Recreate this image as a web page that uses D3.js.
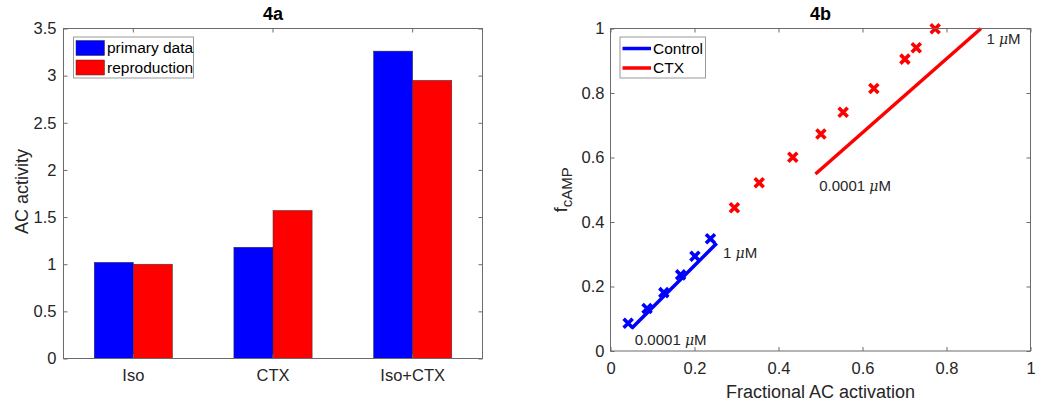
<!DOCTYPE html>
<html>
<head>
<meta charset="utf-8">
<script src="https://cdn.jsdelivr.net/npm/d3@7"></script>
<style>
  body { margin: 0; background: #fff; }
  svg { display: block; font-family: "Liberation Sans", Arial, sans-serif; }
  .tick text { fill: #262626; }
</style>
</head>
<body>
<svg id="chart" width="1037" height="405"></svg>
<script>
// 4a data
const categories = ['Iso', 'CTX', 'Iso+CTX'];
const seriesNames = ['primary data', 'reproduction'];
const primaryData = [1.02, 1.18, 3.26];
const reproduction = [1.0, 1.57, 2.95];
const yTicksA = [0, 0.5, 1, 1.5, 2, 2.5, 3, 3.5];

// 4b data
const controlX = [0.042, 0.087, 0.127, 0.167, 0.201, 0.238];
const controlY = [0.086, 0.132, 0.181, 0.236, 0.294, 0.348];
const ctxX = [0.295, 0.354, 0.434, 0.501, 0.554, 0.627, 0.701, 0.728, 0.773];
const ctxY = [0.444, 0.522, 0.601, 0.673, 0.740, 0.814, 0.905, 0.940, 0.999];
const controlLine = [[0.050, 0.070], [0.253, 0.334]];
const ctxLine = [[0.488, 0.549], [0.882, 1.0]];
const ticksB = [0, 0.2, 0.4, 0.6, 0.8, 1];
const annotations = [
    { x: 0.058, y: 0.034, text: '0.0001 ' },
    { x: 0.268, y: 0.306, text: '1 ' },
    { x: 0.497, y: 0.512, text: '0.0001 ' },
    { x: 0.895, y: 0.969, text: '1 ' }
];

const BLUE = '#0000ff';
const RED = '#ff0000';
const AXIS = '#6b6b6b';
const TEXT = '#262626';

const svg = d3.select('#chart');

const box = (g, w, h) => g.append('rect')
    .attr('x', 0).attr('y', 0).attr('width', w).attr('height', h)
    .attr('fill', 'none').attr('stroke', AXIS).attr('stroke-width', 1);

const styleAxis = sel => {
    sel.select('.domain').remove();
    sel.selectAll('.tick line').attr('stroke', AXIS);
    sel.selectAll('.tick text').attr('font-size', 16.5);
};

//#region 4a bar chart
const a = { left: 63.5, top: 28.5, width: 419, height: 330 };
const gA = svg.append('g').attr('transform', `translate(${a.left},${a.top})`);

const x0 = d3.scaleBand().domain(categories).range([0, a.width]).padding(0);
const x1 = d3.scaleBand().domain(seriesNames)
    .range([x0.bandwidth() * 0.22, x0.bandwidth() * 0.78]);
const yA = d3.scaleLinear().domain([0, 3.5]).range([a.height, 0]);

const barData = categories.map((c, i) => ({
    cat: c,
    values: [
        { name: seriesNames[0], v: primaryData[i], color: BLUE },
        { name: seriesNames[1], v: reproduction[i], color: RED }
    ]
}));

gA.selectAll('.group')
    .data(barData)
    .join('g')
    .attr('transform', d => `translate(${x0(d.cat)},0)`)
    .selectAll('rect')
    .data(d => d.values)
    .join('rect')
    .attr('x', d => x1(d.name))
    .attr('width', x1.bandwidth())
    .attr('y', d => yA(d.v))
    .attr('height', d => a.height - yA(d.v))
    .attr('fill', d => d.color)
    .attr('stroke', '#333')
    .attr('stroke-width', 0.5);

gA.append('g').call(d3.axisLeft(yA).tickValues(yTicksA).tickFormat(d3.format('')).tickSize(-4).tickPadding(7)).call(styleAxis);
gA.append('g').attr('transform', `translate(${a.width},0)`)
    .call(d3.axisRight(yA).tickValues(yTicksA).tickFormat('').tickSize(-4)).call(styleAxis);
gA.append('g').attr('transform', `translate(0,${a.height})`)
    .call(d3.axisBottom(x0).tickSize(-4).tickPadding(11)).call(styleAxis);
gA.append('g')
    .call(d3.axisTop(x0).tickFormat('').tickSize(-4)).call(styleAxis);
box(gA, a.width, a.height);

gA.append('text')
    .attr('x', a.width / 2).attr('y', -9)
    .attr('text-anchor', 'middle').attr('font-weight', 'bold')
    .attr('font-size', 18).attr('fill', '#000')
    .text('4a');

gA.append('text')
    .attr('transform', `translate(-42,${a.height / 2 - 2}) rotate(-90)`)
    .attr('text-anchor', 'middle').attr('dy', '0.35em').attr('font-size', 18).attr('fill', TEXT)
    .text('AC activity');

// legend
const legA = gA.append('g').attr('transform', 'translate(10,8.5)');
legA.append('rect').attr('width', 120).attr('height', 41)
    .attr('fill', '#fff').attr('stroke', '#9a9a9a').attr('stroke-width', 1);
seriesNames.forEach((name, i) => {
    const row = legA.append('g').attr('transform', `translate(2.5,${3.5 + i * 19.5})`);
    row.append('rect').attr('width', 28.5).attr('height', 15)
        .attr('fill', i === 0 ? BLUE : RED).attr('stroke', '#333').attr('stroke-width', 0.5);
    row.append('text').attr('x', 31).attr('y', 7.5).attr('dy', '0.35em')
        .attr('font-size', 15.5).attr('fill', '#000').text(name);
});
//#endregion

//#region 4b scatter + lines
const b = { left: 610.5, top: 28.5, width: 420, height: 322.5 };
const gB = svg.append('g').attr('transform', `translate(${b.left},${b.top})`);

const xB = d3.scaleLinear().domain([0, 1]).range([0, b.width]);
const yB = d3.scaleLinear().domain([0, 1]).range([b.height, 0]);

const line = d3.line().x(d => xB(d[0])).y(d => yB(d[1]));

gB.append('path').datum(controlLine).attr('d', line)
    .attr('fill', 'none').attr('stroke', BLUE).attr('stroke-width', 3.5);
gB.append('path').datum(ctxLine).attr('d', line)
    .attr('fill', 'none').attr('stroke', RED).attr('stroke-width', 3.5);

const cross = (sel, color) => sel.append('path')
    .attr('d', 'M-4.5,-4.5L4.5,4.5M-4.5,4.5L4.5,-4.5')
    .attr('stroke', color).attr('stroke-width', 3.6).attr('fill', 'none');

gB.selectAll('.ctrl')
    .data(d3.zip(controlX, controlY))
    .join('g')
    .attr('transform', d => `translate(${xB(d[0])},${yB(d[1])})`)
    .call(cross, BLUE);

gB.selectAll('.ctx')
    .data(d3.zip(ctxX, ctxY))
    .join('g')
    .attr('transform', d => `translate(${xB(d[0])},${yB(d[1])})`)
    .call(cross, RED);

gB.append('g').call(d3.axisLeft(yB).tickValues(ticksB).tickFormat(d3.format('')).tickSize(-4).tickPadding(6)).call(styleAxis);
gB.append('g').attr('transform', `translate(${b.width},0)`)
    .call(d3.axisRight(yB).tickValues(ticksB).tickFormat('').tickSize(-4)).call(styleAxis);
gB.append('g').attr('transform', `translate(0,${b.height})`)
    .call(d3.axisBottom(xB).tickValues(ticksB).tickFormat(d3.format('')).tickSize(-4).tickPadding(11)).call(styleAxis);
gB.append('g')
    .call(d3.axisTop(xB).tickValues(ticksB).tickFormat('').tickSize(-4)).call(styleAxis);
box(gB, b.width, b.height);

gB.selectAll('.annot')
    .data(annotations)
    .join('text')
    .attr('x', d => xB(d.x)).attr('y', d => yB(d.y))
    .attr('dy', '0.35em').attr('font-size', 15).attr('fill', TEXT)
    .each(function (d) {
        const t = d3.select(this);
        t.append('tspan').text(d.text);
        t.append('tspan').attr('font-style', 'italic').attr('font-family', '"DejaVu Serif", serif').attr('font-size', 14).text('\u03bc');
        t.append('tspan').text('M');
    });

gB.append('text')
    .attr('x', b.width / 2).attr('y', -9)
    .attr('text-anchor', 'middle').attr('font-weight', 'bold')
    .attr('font-size', 18).attr('fill', '#000')
    .text('4b');

gB.append('text')
    .attr('x', b.width / 2).attr('y', b.height + 47)
    .attr('text-anchor', 'middle').attr('font-size', 18).attr('fill', TEXT)
    .text('Fractional AC activation');

const yLab = gB.append('text')
    .attr('transform', `translate(-50,${b.height / 2}) rotate(-90)`)
    .attr('text-anchor', 'middle').attr('dy', '0.35em').attr('font-size', 18).attr('fill', TEXT);
yLab.append('tspan').text('f');
yLab.append('tspan').attr('baseline-shift', '-30%').attr('font-size', 15).text('cAMP');

const legB = gB.append('g').attr('transform', 'translate(9.5,8.5)');
legB.append('rect').attr('width', 85.5).attr('height', 41)
    .attr('fill', '#fff').attr('stroke', '#9a9a9a').attr('stroke-width', 1);
[['Control', BLUE], ['CTX', RED]].forEach(([name, color], i) => {
    const yy = 11.5 + i * 19.5;
    legB.append('line').attr('x1', 2.5).attr('x2', 31).attr('y1', yy).attr('y2', yy)
        .attr('stroke', color).attr('stroke-width', 3.5);
    legB.append('text').attr('x', 33).attr('y', yy).attr('dy', '0.35em')
        .attr('font-size', 15.5).attr('fill', '#000').text(name);
});
//#endregion
</script>
</body>
</html>
